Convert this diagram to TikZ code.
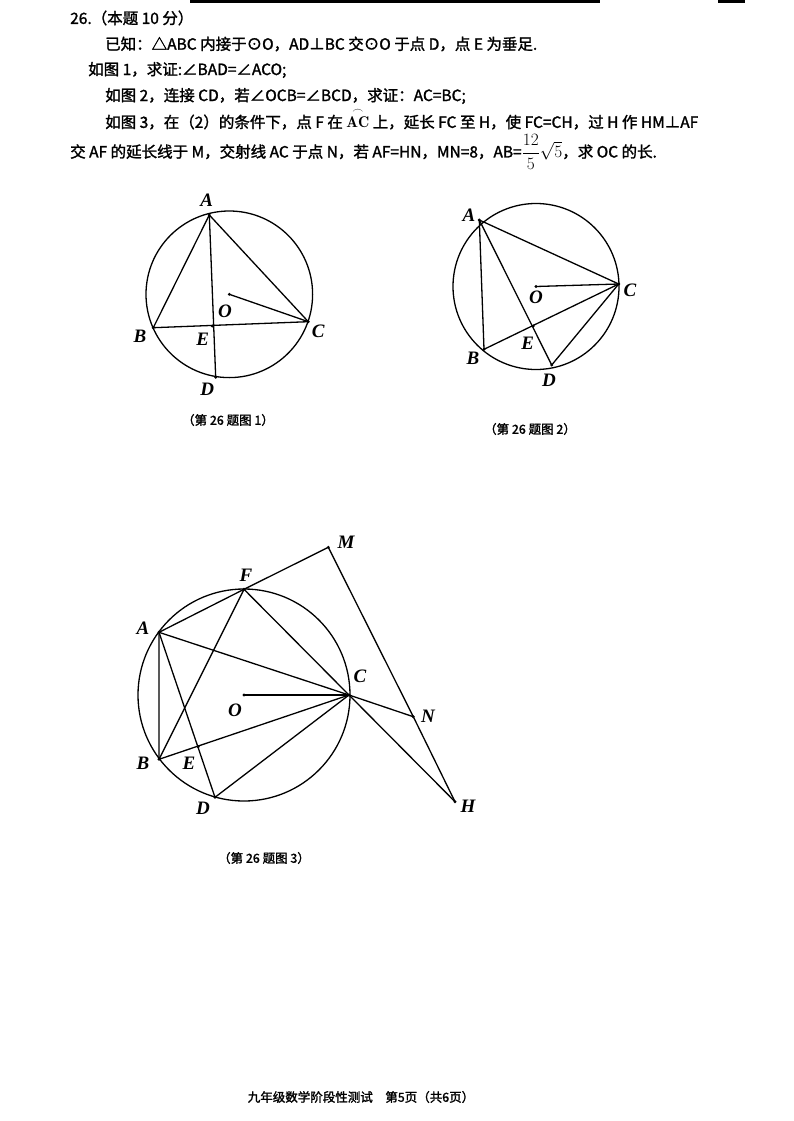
\documentclass[tikz,border=0pt]{standalone}
\usepackage{amsmath,amssymb}
\usepackage{fontspec}
\newfontfamily\cjk{Noto Sans CJK SC}[FakeBold=1.6]
\newfontfamily\lab{Liberation Serif}
\begin{document}
\begin{tikzpicture}[x=1pt,y=-1pt,
  txt/.style={anchor=west,inner sep=0pt,font=\cjk\fontsize{15.5}{17}\selectfont},
  captext/.style={inner sep=0pt,font=\cjk\fontsize{12.5}{14}\selectfont},
  pt/.style={inner sep=0pt,font=\lab\bfseries\itshape\fontsize{19}{20}\selectfont},
  ln/.style={line width=1.3pt,line join=round}]
\useasboundingbox (0,0) rectangle (793,1121);
\fill (190,0) rectangle (600,3);
\fill (718,0) rectangle (745,3);
% text
\node[txt] (t1) at (70,18) {26.（本题 10 分）};
\node[txt] (t2) at (105,44) {已知：△ABC 内接于⊙O，AD⊥BC 交⊙O 于点 D，点 E 为垂足.};
\node[txt] (t3) at (88,70) {如图 1，求证:∠BAD=∠ACO;};
\node[txt] (t4) at (105,96) {如图 2，连接 CD，若∠OCB=∠BCD，求证：AC=BC;};
\node[txt] (t5) at (105,119) {如图 3，在（2）的条件下，点 F 在 $\overset{\frown}{\mathbf{AC}}$ 上，延长 FC 至 H，使 FC=CH，过 H 作 HM⊥AF};
\node[txt] (t6) at (70,152) {交 AF 的延长线于 M，交射线 AC 于点 N，若 AF=HN，MN=8，AB=\fontsize{19}{20}\selectfont$\dfrac{12}{5}\sqrt{5}$\fontsize{15.5}{17}\selectfont，求 OC 的长.};
% figure 1
\coordinate (O1) at (229.3,294.3);
\draw[ln] (O1) circle (83.3);
\coordinate (A1) at (209.3,215);
\coordinate (B1) at (153.3,327.7);
\coordinate (C1) at (308.3,321.7);
\coordinate (E1) at (212.3,326);
\coordinate (D1) at (215.7,377.3);
\draw[ln] (A1)--(B1)--(C1)--cycle;
\draw[ln] (A1)--(D1);
\draw[ln] (O1)--(C1);
\foreach \p in {A1,B1,C1,O1,E1,D1} \fill (\p) circle (1.6);
\node[pt] (lA1) at (206.7,200) {A};
\node[pt] (lB1) at (140,336.7) {B};
\node[pt] (lC1) at (318.3,331.7) {C};
\node[pt] (lO1) at (225,311) {O};
\node[pt] (lE1) at (202.7,339) {E};
\node[pt] (lD1) at (207.3,389) {D};
\node[captext] (c1) at (228,420) {（第 26 题图 1）};
% figure 2
\coordinate (O2) at (536,286.5);
\draw[ln] (O2) circle (83);
\coordinate (A2) at (479.3,220);
\coordinate (B2) at (484,349.3);
\coordinate (C2) at (618.7,284);
\coordinate (E2) at (533.3,326);
\coordinate (D2) at (551.7,365);
\draw[ln] (A2)--(B2)--(C2)--cycle;
\draw[ln] (A2)--(D2)--(C2);
\draw[ln] (O2)--(C2);
\foreach \p in {A2,B2,C2,O2,E2,D2} \fill (\p) circle (1.6);
\node[pt] (lA2) at (469,215) {A};
\node[pt] (lB2) at (473,358) {B};
\node[pt] (lC2) at (630,290) {C};
\node[pt] (lO2) at (536,297) {O};
\node[pt] (lE2) at (527.7,343) {E};
\node[pt] (lD2) at (549,380) {D};
\node[captext] (c2) at (530,429) {（第 26 题图 2）};
% figure 3
\coordinate (O3) at (244,695);
\draw[ln] (O3) circle (106);
\coordinate (A3) at (159,632.3);
\coordinate (F3) at (244,589.3);
\coordinate (M3) at (328.3,547.3);
\coordinate (C3) at (349,695);
\coordinate (N3) at (413.3,716.7);
\coordinate (H3) at (455,801.7);
\coordinate (B3) at (159,759.3);
\coordinate (E3) at (198.3,746.7);
\coordinate (D3) at (215,797.3);
\draw[ln] (A3)--(F3)--(M3)--(N3)--(H3);
\draw[ln] (F3)--(B3);
\draw[ln] (F3)--(C3)--(H3);
\draw[ln] (A3)--(C3)--(N3);
\draw[ln] (A3)--(B3)--(C3);
\draw[ln] (A3)--(D3)--(C3);
\draw[ln] (O3)--(C3);
\foreach \p in {A3,F3,M3,C3,N3,H3,B3,E3,D3,O3} \fill (\p) circle (1.6);
\node[pt] (lM3) at (346,542) {M};
\node[pt] (lF3) at (246,575) {F};
\node[pt] (lA3) at (143,628) {A};
\node[pt] (lC3) at (360,676) {C};
\node[pt] (lO3) at (235,710) {O};
\node[pt] (lN3) at (428,716) {N};
\node[pt] (lB3) at (143,763) {B};
\node[pt] (lE3) at (189,763) {E};
\node[pt] (lD3) at (203,808) {D};
\node[pt] (lH3) at (468,806) {H};
\node[captext] (c3) at (264,858) {（第 26 题图 3）};
% footer
\node[captext] (foot) at (361,1097) {九年级数学阶段性测试\quad 第5页（共6页）};
\end{tikzpicture}
\end{document}
